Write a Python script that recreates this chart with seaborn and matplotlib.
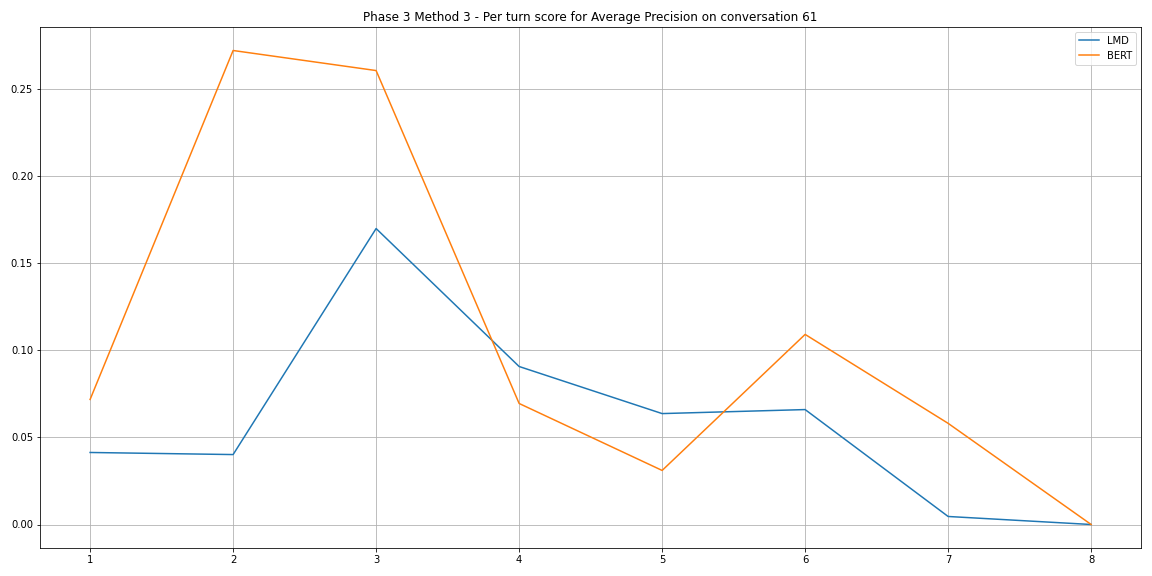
import pandas as pd
import matplotlib
matplotlib.use("Agg")
import matplotlib.pyplot as plt
import seaborn as sns

# Per-turn scores
turns = [1, 2, 3, 4, 5, 6, 7, 8]
lmd_scores = [0.0413, 0.0401, 0.1697, 0.0906, 0.0636, 0.0659, 0.0046, 0.0]
bert_scores = [0.0717, 0.2718, 0.2603, 0.0694, 0.0310, 0.1090, 0.0580, 0.0]

df = pd.DataFrame({
    "turn": turns * 2,
    "score": lmd_scores + bert_scores,
    "model": ["LMD"] * len(turns) + ["BERT"] * len(turns),
})

fig, ax = plt.subplots(figsize=(16, 8), dpi=72)
sns.lineplot(data=df, x="turn", y="score", hue="model",
             palette=["#1f77b4", "#ff7f0e"], ax=ax)
ax.set_title("Phase 3 Method 3 - Per turn score for Average Precision on conversation 61")
ax.set_xlabel("")
ax.set_ylabel("")
ax.set_xticks(turns)
ax.grid(True)
ax.legend(loc="upper right")
plt.tight_layout()
plt.savefig("out.png")
